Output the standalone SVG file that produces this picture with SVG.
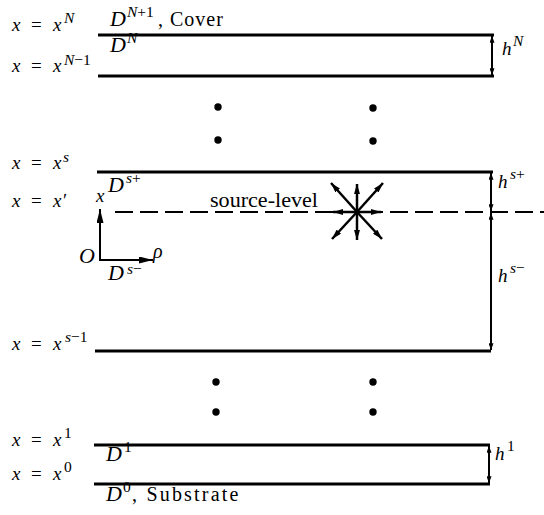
<svg xmlns="http://www.w3.org/2000/svg" width="544" height="515" viewBox="0 0 544 515">
<style>
text{font-family:"Liberation Serif","DejaVu Serif",serif;fill:#000}
.i{font-style:italic;font-size:19px}
.r{font-size:19px}
.D{font-style:italic;font-size:22px}
.si{font-style:italic;font-size:15.5px}
.sr{font-size:15.5px}
.w{font-size:20px}
.bd{stroke:#000;stroke-width:3;fill:none}
.dim{stroke:#000;stroke-width:2;fill:none;marker-start:url(#ah);marker-end:url(#ah)}
.arm{stroke:#000;stroke-width:2.5;fill:none;marker-end:url(#sa)}
.dot{fill:#000}
</style>
<defs>
<marker id="ah" viewBox="0 0 8 6" refX="8" refY="3" markerWidth="7" markerHeight="5" markerUnits="userSpaceOnUse" orient="auto-start-reverse"><path d="M0,0 L8,3 L0,6 z"/></marker>
<marker id="sa" viewBox="0 0 10 6" refX="10" refY="3" markerWidth="10" markerHeight="6" markerUnits="userSpaceOnUse" orient="auto"><path d="M0,0 L10,3 L0,6 z"/></marker>
<marker id="ax" viewBox="0 0 12 6" refX="12" refY="3" markerWidth="16" markerHeight="7" markerUnits="userSpaceOnUse" orient="auto"><path d="M0,0 L12,3 L0,6 z"/></marker>
</defs>

<g id="layer-N">
<line class="bd" x1="98" y1="35" x2="494" y2="35"/>
<line class="bd" x1="98" y1="76" x2="494" y2="76"/>
<text y="31"><tspan class="i" x="12">x</tspan><tspan class="r" x="31">=</tspan><tspan class="i" x="53">x</tspan><tspan class="si" x="64" y="23">N</tspan></text>
<text y="26"><tspan class="D" x="110">D</tspan><tspan class="si" x="127" y="17">N</tspan><tspan class="sr">+1</tspan><tspan class="w" x="158" y="26" letter-spacing="1">, Cover</tspan></text>
<text y="52"><tspan class="D" x="110">D</tspan><tspan class="si" x="127" y="43">N</tspan></text>
<text y="72"><tspan class="i" x="12">x</tspan><tspan class="r" x="31">=</tspan><tspan class="i" x="53">x</tspan><tspan class="si" x="64" y="65">N</tspan><tspan class="sr">−1</tspan></text>
<text y="55"><tspan class="i" x="502">h</tspan><tspan class="si" x="513" y="46">N</tspan></text>
</g>

<g id="dots-top">
<circle class="dot" cx="218" cy="107" r="3.7"/>
<circle class="dot" cx="218" cy="140" r="3.7"/>
<circle class="dot" cx="373" cy="108" r="3.7"/>
<circle class="dot" cx="373" cy="141" r="3.7"/>
</g>

<g id="layer-s">
<line class="bd" x1="97" y1="172" x2="493" y2="172"/>
<line class="bd" x1="95" y1="351" x2="491" y2="351"/>
<text y="169"><tspan class="i" x="12">x</tspan><tspan class="r" x="31">=</tspan><tspan class="i" x="53">x</tspan><tspan class="si" x="63" y="162">s</tspan></text>
<text y="192"><tspan class="D" x="108">D</tspan><tspan class="si" x="126" y="183">s</tspan><tspan class="sr">+</tspan></text>
<text y="207"><tspan class="i" x="12">x</tspan><tspan class="r" x="31">=</tspan><tspan class="i" x="53">x</tspan><tspan class="r" x="63">′</tspan></text>
<text y="280"><tspan class="D" x="108">D</tspan><tspan class="si" x="127" y="274">s</tspan><tspan class="sr">−</tspan></text>
<text y="350"><tspan class="i" x="12">x</tspan><tspan class="r" x="31">=</tspan><tspan class="i" x="53">x</tspan><tspan class="si" x="65" y="342">s</tspan><tspan class="sr">−1</tspan></text>
<text y="188"><tspan class="i" x="498">h</tspan><tspan class="si" x="510" y="179">s</tspan><tspan class="sr">+</tspan></text>
<text y="282"><tspan class="i" x="498">h</tspan><tspan class="si" x="510" y="273">s</tspan><tspan class="sr">−</tspan></text>
</g>

<g id="source-level">
<line x1="115" y1="212" x2="544" y2="212" stroke="#000" stroke-width="2" stroke-dasharray="18 7"/>
<text class="w" x="210" y="207" textLength="108" lengthAdjust="spacingAndGlyphs">source-level</text>
</g>

<g id="source">
<line class="arm" x1="357" y1="212" x2="357" y2="184"/>
<line class="arm" x1="357" y1="212" x2="357" y2="240"/>
<line class="arm" x1="357" y1="212" x2="333" y2="212"/>
<line class="arm" x1="357" y1="212" x2="381" y2="212"/>
<line class="arm" x1="357" y1="212" x2="331" y2="183"/>
<line class="arm" x1="357" y1="212" x2="383" y2="183"/>
<line class="arm" x1="357" y1="212" x2="332" y2="239"/>
<line class="arm" x1="357" y1="212" x2="382" y2="239"/>
</g>

<g id="axes">
<line x1="100" y1="261" x2="100" y2="209" stroke="#000" stroke-width="2" marker-end="url(#ax)"/>
<line x1="99" y1="260" x2="153" y2="260" stroke="#000" stroke-width="2" marker-end="url(#ax)"/>
<text class="i" x="96" y="202">x</text>
<text x="79" y="263" style="font-style:italic;font-size:22px">O</text>
<text x="153" y="258" style="font-style:italic;font-size:20px">ρ</text>
</g>

<g id="dots-bottom">
<circle class="dot" cx="216" cy="382" r="3.7"/>
<circle class="dot" cx="216" cy="412" r="3.7"/>
<circle class="dot" cx="373" cy="382" r="3.7"/>
<circle class="dot" cx="373" cy="412" r="3.7"/>
</g>

<g id="layer-1">
<line class="bd" x1="94" y1="445" x2="490" y2="445"/>
<line class="bd" x1="94" y1="484" x2="490" y2="484"/>
<text y="446"><tspan class="i" x="12">x</tspan><tspan class="r" x="31">=</tspan><tspan class="i" x="53">x</tspan><tspan class="sr" x="64" y="438">1</tspan></text>
<text y="461"><tspan class="D" x="106">D</tspan><tspan class="sr" x="124" y="452">1</tspan></text>
<text y="480"><tspan class="i" x="12">x</tspan><tspan class="r" x="31">=</tspan><tspan class="i" x="53">x</tspan><tspan class="sr" x="64" y="472">0</tspan></text>
<text y="501"><tspan class="D" x="106">D</tspan><tspan class="sr" x="123" y="492">0</tspan><tspan class="w" x="132" y="501" letter-spacing="2.2">, Substrate</tspan></text>
<text y="460"><tspan class="i" x="495">h</tspan><tspan class="sr" x="507" y="451">1</tspan></text>
</g>

<g id="connectors">
<line class="dim" x1="492" y1="36" x2="492" y2="75"/>
<line class="dim" x1="491" y1="173" x2="491" y2="211"/>
<line class="dim" x1="491" y1="213" x2="491" y2="350"/>
<line class="dim" x1="489" y1="446" x2="489" y2="483"/>
</g>
</svg>
